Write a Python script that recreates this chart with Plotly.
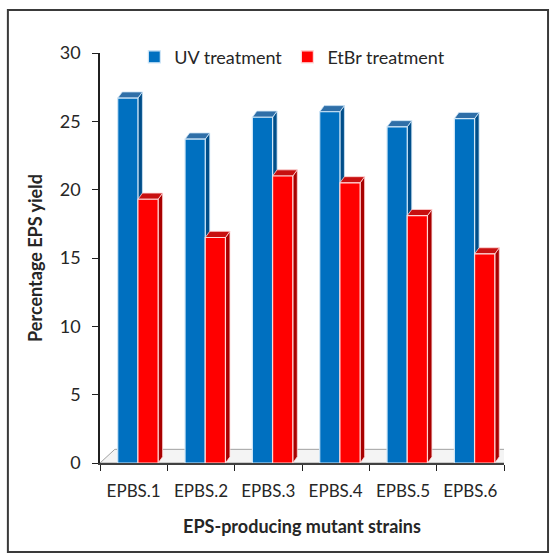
import plotly.graph_objects as go

# Strains and EPS yield (%) for each mutagen treatment
strains = ["EPBS.1", "EPBS.2", "EPBS.3", "EPBS.4", "EPBS.5", "EPBS.6"]
uv_yield = [26.7, 23.7, 25.3, 25.7, 24.6, 25.2]
etbr_yield = [19.3, 16.5, 21.0, 20.5, 18.1, 15.3]

series = [
    ("UV treatment", uv_yield, "#0070C0", "#004E8A", "#2F6FA8", "#CFE6F7", -0.237),
    ("EtBr treatment", etbr_yield, "#FF0000", "#A80000", "#C81010", "#FFD6D6", 0.063),
]

BAR_W = 0.30      # bar width in category units
DEPTH_X = 0.067   # 3-D side offset (category units)
DEPTH_Y = 0.45    # 3-D top offset (value units)
FLOOR_X = 0.22
FLOOR_Y = 1.0

fig = go.Figure()
shapes = []

# floor of the 3-D plot
n = len(strains)
shapes.append(dict(
    type="path", xref="x", yref="y", layer="below",
    path=(f"M {-0.5},0 L {n - 0.5},0 L {n - 0.5 + FLOOR_X},{FLOOR_Y} "
          f"L {-0.5 + FLOOR_X},{FLOOR_Y} Z"),
    fillcolor="#F4F4F4", line=dict(color="#A0A0A0", width=1),
))

for name, vals, front, side, top, edge, off in series:
    fig.add_trace(go.Bar(
        name=name, x=strains, y=vals, width=BAR_W, offset=off,
        marker=dict(color=front, line=dict(color=edge, width=1.2)),
    ))
    for i, v in enumerate(vals):
        x0 = i + off
        x1 = x0 + BAR_W
        # right side face
        shapes.append(dict(
            type="path", xref="x", yref="y", layer="below",
            path=(f"M {x1},0 L {x1 + DEPTH_X},{DEPTH_Y} L {x1 + DEPTH_X},{v + DEPTH_Y} "
                  f"L {x1},{v} Z"),
            fillcolor=side, line=dict(color=edge, width=0.8),
        ))
        # top face
        shapes.append(dict(
            type="path", xref="x", yref="y", layer="below",
            path=(f"M {x0},{v} L {x1},{v} L {x1 + DEPTH_X},{v + DEPTH_Y} "
                  f"L {x0 + DEPTH_X},{v + DEPTH_Y} Z"),
            fillcolor=top, line=dict(color=edge, width=0.8),
        ))

# outer frame around the whole chart
shapes.append(dict(
    type="rect", xref="paper", yref="paper",
    x0=-0.228, x1=1.109, y0=-0.217, y1=1.105,
    line=dict(color="#3A3A3A", width=2), fillcolor="rgba(0,0,0,0)", layer="above",
))

font = "Lato, 'Open Sans', 'DejaVu Sans', sans-serif"

fig.update_layout(
    width=555, height=558,
    margin=dict(l=100, r=51, t=53, b=95),
    paper_bgcolor="white", plot_bgcolor="white",
    barmode="overlay",
    shapes=shapes,
    font=dict(family=font, size=18, color="#262626"),
    showlegend=True,
    legend=dict(
        orientation="h", x=0.085, y=0.99, xanchor="left", yanchor="middle",
        font=dict(size=18, color="#262626"), bgcolor="rgba(0,0,0,0)",
        itemwidth=30, traceorder="normal",
    ),
    xaxis=dict(
        type="category", range=[-0.5, n - 0.5],
        showline=True, linecolor="#404040", linewidth=1.5,
        ticks="outside", tickson="boundaries", ticklen=6, tickcolor="#202020",
        tickfont=dict(size=17), showgrid=False, zeroline=False,
        ticklabelstandoff=12,
        title=dict(text="<b>EPS-producing mutant strains</b>", font=dict(size=18), standoff=20),
    ),
    yaxis=dict(
        range=[0, 30], tickvals=[0, 5, 10, 15, 20, 25, 30],
        showline=True, linecolor="#202020", linewidth=1.5,
        ticks="outside", ticklen=6, tickcolor="#202020",
        tickfont=dict(size=18), showgrid=False, zeroline=False,
        ticklabelstandoff=8,
        title=dict(text="<b>Percentage EPS yield</b>", font=dict(size=18), standoff=12),
    ),
)

fig.write_html("out.html")
